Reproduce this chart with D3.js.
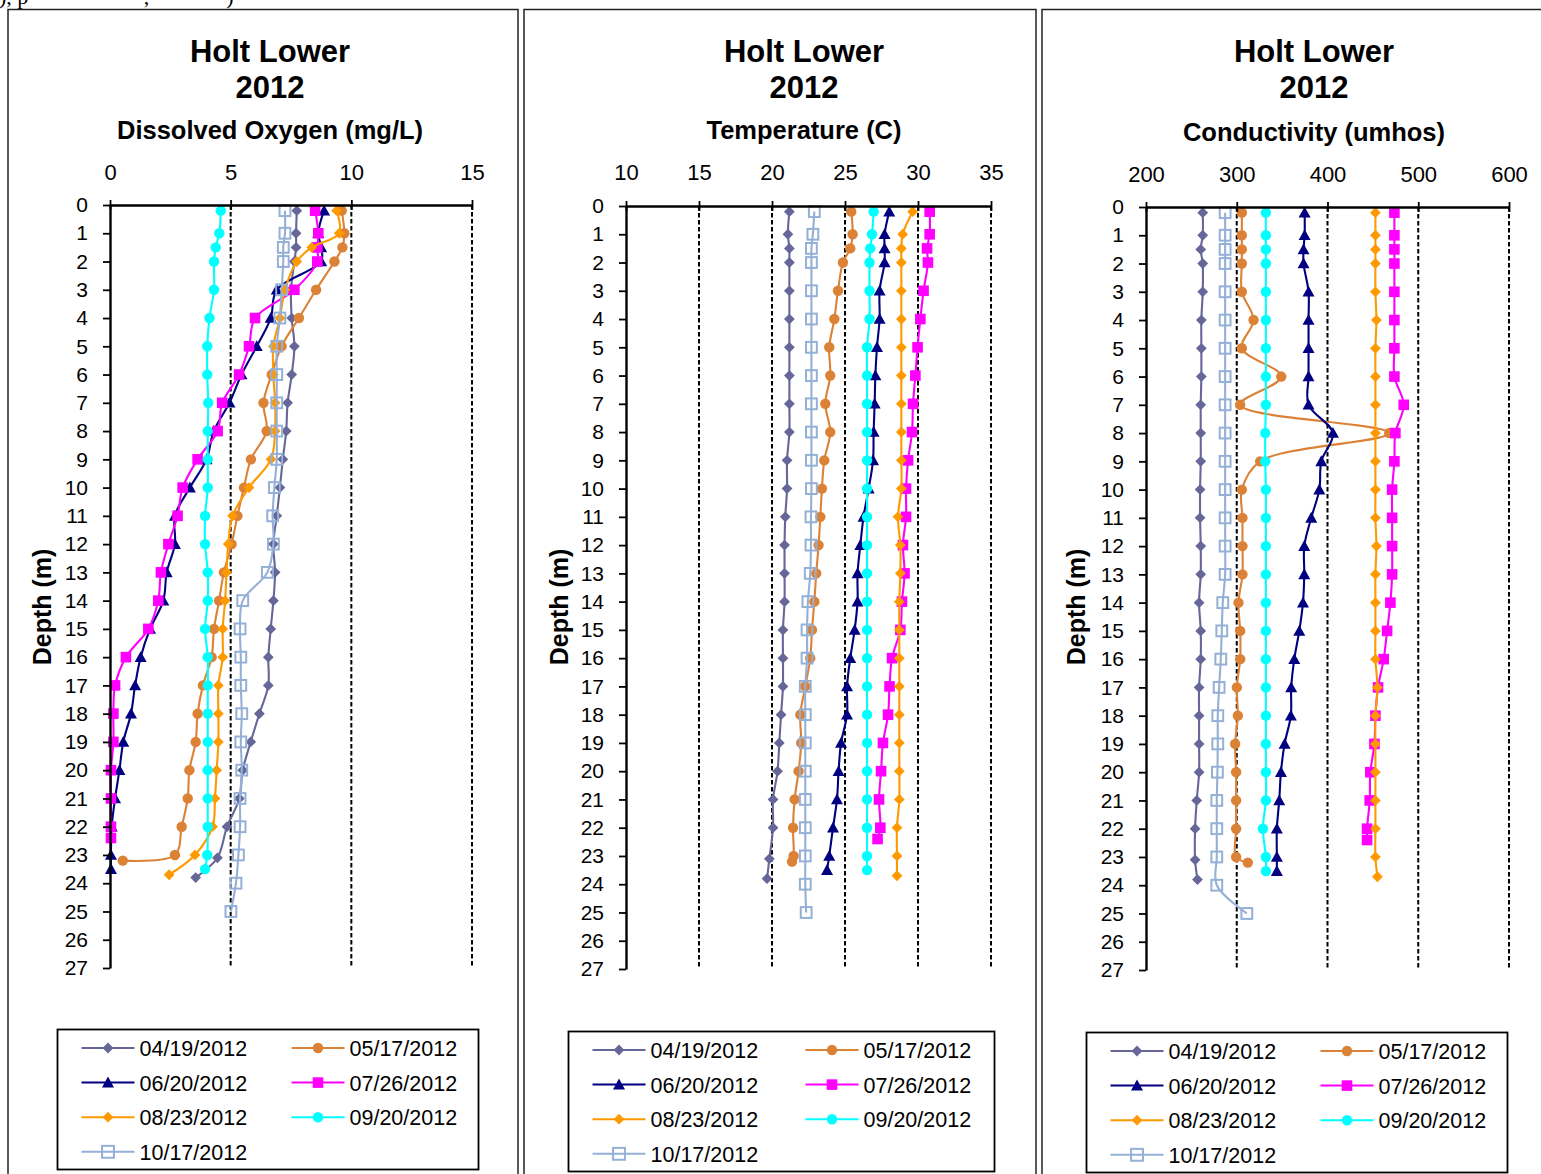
<!DOCTYPE html>
<html>
<head>
<meta charset="utf-8">
<script src="https://cdn.jsdelivr.net/npm/d3@7"></script>
<style>
  body { margin: 0; background: #fff; }
  svg { display: block; }
  text { font-family: "Liberation Sans", Arial, sans-serif; fill: #000; }
</style>
</head>
<body>
<div id="chart"></div>
<script>
// sampling dates (one profile each)
const dates = ["04/19/2012", "05/17/2012", "06/20/2012", "07/26/2012", "08/23/2012", "09/20/2012", "10/17/2012"];

// depths (m) of each profile
const depth0419 = [0.2, 1, 1.5, 2, 3, 4, 5, 6, 7, 8, 9, 10, 11, 12, 13, 14, 15, 16, 17, 18, 19, 20, 21, 22, 23.1, 23.8];
const depth0517 = [0.2, 1, 1.5, 2, 3, 4, 5, 6, 7, 8, 9, 10, 11, 12, 13, 14, 15, 16, 17, 18, 19, 20, 21, 22, 23, 23.2];
const depth0620 = [0.2, 1, 1.5, 2, 3, 4, 5, 6, 7, 8, 9, 10, 11, 12, 13, 14, 15, 16, 17, 18, 19, 20, 21, 22, 23, 23.5];
const depth0726 = [0.2, 1, 1.5, 2, 3, 4, 5, 6, 7, 8, 9, 10, 11, 12, 13, 14, 15, 16, 17, 18, 19, 20, 21, 22, 22.4];
const depth0823 = [0.2, 1, 1.5, 2, 3, 4, 5, 6, 7, 8, 9, 10, 11, 12, 13, 14, 15, 16, 17, 18, 19, 20, 21, 22, 23, 23.7];
const depth0920 = [0.2, 1, 1.5, 2, 3, 4, 5, 6, 7, 8, 9, 10, 11, 12, 13, 14, 15, 16, 17, 18, 19, 20, 21, 22, 23, 23.5];
const depth1017 = [0.2, 1, 1.5, 2, 3, 4, 5, 6, 7, 8, 9, 10, 11, 12, 13, 14, 15, 16, 17, 18, 19, 20, 21, 22, 23, 24, 25];

// dissolved oxygen (mg/L)
const do0419 = [7.74, 7.71, 7.71, 7.64, 7.5, 7.53, 7.64, 7.53, 7.36, 7.3, 7.16, 7.04, 6.91, 6.77, 6.84, 6.77, 6.66, 6.56, 6.56, 6.19, 5.83, 5.5, 5.36, 4.85, 4.45, 3.55];
const do0517 = [9.6, 9.71, 9.63, 9.3, 8.54, 7.83, 7.11, 6.7, 6.36, 6.49, 5.84, 5.55, 5.28, 5.04, 4.72, 4.52, 4.31, 4.21, 3.85, 3.63, 3.55, 3.29, 3.22, 2.97, 2.69, 0.53];
const do0620 = [8.87, 8.63, 8.75, 8.75, 6.91, 6.66, 6.08, 5.45, 4.95, 4.3, 4.0, 3.31, 2.69, 2.69, 2.35, 2.21, 1.66, 1.27, 1.04, 0.87, 0.55, 0.39, 0.21, 0.07, 0.04, 0.04];
const do0726 = [8.5, 8.63, 8.59, 8.59, 7.64, 6.01, 5.76, 5.35, 4.65, 4.46, 3.63, 3.01, 2.8, 2.42, 2.11, 2.0, 1.59, 0.66, 0.21, 0.14, 0.14, 0.04, 0.04, 0.04, 0.04];
const do0823 = [9.39, 9.5, 8.36, 7.74, 7.25, 7.04, 6.77, 6.77, 6.84, 6.84, 6.67, 5.76, 5.08, 4.9, 4.83, 4.77, 4.67, 4.67, 4.49, 4.49, 4.49, 4.42, 4.35, 4.25, 3.52, 2.45];
const do0920 = [4.59, 4.53, 4.38, 4.31, 4.31, 4.12, 4.03, 4.03, 4.07, 4.05, 4.05, 4.05, 3.94, 3.94, 4.05, 4.05, 3.94, 4.05, 4.05, 4.05, 4.05, 4.05, 4.05, 4.05, 4.03, 3.94];
const do1017 = [7.25, 7.25, 7.18, 7.18, 7.11, 7.04, 6.91, 6.91, 6.91, 6.91, 6.91, 6.81, 6.74, 6.77, 6.52, 5.5, 5.39, 5.42, 5.42, 5.46, 5.42, 5.46, 5.39, 5.39, 5.32, 5.22, 5.01];

// temperature (C)
const temp0419 = [21.19, 21.09, 21.19, 21.19, 21.19, 21.19, 21.19, 21.19, 21.19, 21.19, 21.03, 21.03, 20.91, 20.86, 20.86, 20.86, 20.75, 20.75, 20.75, 20.62, 20.5, 20.38, 20.07, 20.07, 19.82, 19.66];
const temp0517 = [25.43, 25.52, 25.36, 24.86, 24.52, 24.27, 23.92, 23.99, 23.65, 23.99, 23.58, 23.42, 23.31, 23.19, 23.03, 22.9, 22.74, 22.62, 22.28, 21.94, 22.0, 21.82, 21.55, 21.44, 21.48, 21.37];
const temp0620 = [28.03, 27.71, 27.71, 27.71, 27.37, 27.37, 27.19, 27.08, 27.03, 26.96, 26.92, 26.62, 26.27, 26.05, 25.86, 25.86, 25.66, 25.36, 25.14, 25.14, 24.73, 24.56, 24.45, 24.18, 23.92, 23.77];
const temp0726 = [30.8, 30.8, 30.62, 30.68, 30.38, 30.16, 29.97, 29.82, 29.66, 29.59, 29.32, 29.18, 29.18, 28.97, 29.08, 28.9, 28.79, 28.22, 28.05, 27.95, 27.6, 27.47, 27.33, 27.42, 27.23];
const temp0823 = [29.63, 28.95, 28.86, 28.86, 28.86, 28.86, 28.86, 28.86, 28.86, 28.86, 28.86, 28.86, 28.63, 28.79, 28.79, 28.72, 28.72, 28.72, 28.72, 28.72, 28.72, 28.72, 28.72, 28.56, 28.56, 28.56];
const temp0920 = [26.96, 26.85, 26.73, 26.68, 26.68, 26.68, 26.51, 26.51, 26.51, 26.51, 26.51, 26.51, 26.51, 26.51, 26.51, 26.51, 26.51, 26.51, 26.51, 26.51, 26.51, 26.51, 26.51, 26.51, 26.51, 26.51];
const temp1017 = [22.9, 22.8, 22.7, 22.7, 22.7, 22.7, 22.7, 22.7, 22.7, 22.7, 22.7, 22.7, 22.67, 22.67, 22.62, 22.46, 22.4, 22.4, 22.28, 22.28, 22.28, 22.28, 22.28, 22.28, 22.28, 22.28, 22.34];

// conductivity (umhos)
const cond0419 = [262.5, 262.5, 260.3, 262.5, 262.5, 261, 261, 261, 260.3, 260.3, 260.3, 259.6, 259.6, 260.3, 260.3, 258.5, 260.3, 260.3, 258.5, 258.5, 258.5, 258.5, 255.9, 254.1, 254.1, 256.7];
const cond0517 = [305.6, 305.6, 305.6, 305.6, 305.6, 318.5, 305.6, 349, 303.8, 468, 325.8, 305.6, 306.3, 306.3, 306.3, 301.9, 303.8, 303.8, 300.1, 301.2, 298.2, 299.3, 299.3, 299.3, 299.3, 312.2];
const cond0620 = [374.8, 374.8, 373.6, 373.6, 379.1, 379.1, 379.1, 379.1, 379.1, 406, 393.2, 391, 382.1, 374.4, 374.4, 373, 368.9, 363.4, 360, 359.6, 352.7, 348.7, 346.8, 344.2, 344.2, 344.2];
const cond0726 = [473.7, 473.7, 473.7, 473.7, 473.7, 473.7, 473.7, 473.7, 484, 474.8, 473.7, 471.2, 471.2, 471.2, 471.2, 469.3, 465.7, 461.9, 455.7, 452.8, 451.7, 447.2, 446.5, 443.6, 443.6];
const cond0823 = [452.8, 452.8, 452.8, 452.8, 452.8, 453.9, 452.8, 452.8, 452.8, 452.8, 452.8, 452.8, 452.8, 453.9, 452.8, 452.8, 452.8, 452.8, 455, 452.8, 452.8, 452.8, 452.8, 452.8, 452.8, 455];
const cond0920 = [332.1, 332.1, 332.1, 332.1, 332.1, 332.1, 332.1, 332.1, 332.1, 331.4, 331.4, 332.1, 332.1, 332.1, 332.1, 332.1, 332.1, 332.1, 332.1, 332.1, 332.1, 332.1, 332.1, 328.8, 332.1, 332.1];
const cond1017 = [287.2, 287.2, 287.2, 287.2, 287.2, 287.2, 287.2, 287.2, 287.2, 287.2, 287.2, 287.2, 287.2, 287.2, 287.2, 284.6, 283.5, 282.4, 280.6, 279.1, 279.1, 278.7, 278, 278, 278, 278, 311.1];

// tick labels
const depthTicks = [0, 1, 2, 3, 4, 5, 6, 7, 8, 9, 10, 11, 12, 13, 14, 15, 16, 17, 18, 19, 20, 21, 22, 23, 24, 25, 26, 27];
const doTicks = [0, 5, 10, 15];
const tempTicks = [10, 15, 20, 25, 30, 35];
const condTicks = [200, 300, 400, 500, 600];

const seriesDepths = [depth0419, depth0517, depth0620, depth0726, depth0823, depth0920, depth1017];

// look of each series, same order as dates
const seriesStyle = [
    {color: "#666699", marker: "diamond"},
    {color: "#DC8236", marker: "circle"},
    {color: "#000080", marker: "triangle"},
    {color: "#FF00FF", marker: "square"},
    {color: "#FF9900", marker: "diamond"},
    {color: "#00FFFF", marker: "circle"},
    {color: "#95B0D6", marker: "open"}
];

const width = 1541;
const height = 1174;

const svg = d3.select("#chart").append("svg")
    .attr("width", width)
    .attr("height", height);

// scrap of the page text above the charts
svg.append("text")
    .attr("x", -1)
    .attr("y", 4)
    .attr("xml:space", "preserve")
    .style("font-family", "'Liberation Serif', 'Times New Roman', serif")
    .style("font-size", "22px")
    .text("), p                     ,              )");

function drawMarker(sel, kind, color, cx, cy, big) {
    let k = big ? 1.1 : 1;
    if (kind === "diamond") {
        let r = 5.4 * k;
        sel.append("path")
            .attr("d", `M${cx},${cy - r}L${cx + r},${cy}L${cx},${cy + r}L${cx - r},${cy}Z`)
            .attr("fill", color);
    } else if (kind === "circle") {
        sel.append("circle")
            .attr("cx", cx).attr("cy", cy).attr("r", 5.2 * k)
            .attr("fill", color);
    } else if (kind === "triangle") {
        let s = 6 * k;
        sel.append("path")
            .attr("d", `M${cx},${cy - s}L${cx + s},${cy + s * 0.8}L${cx - s},${cy + s * 0.8}Z`)
            .attr("fill", color);
    } else if (kind === "square") {
        let s = 5.3 * k;
        sel.append("rect")
            .attr("x", cx - s).attr("y", cy - s)
            .attr("width", 2 * s).attr("height", 2 * s)
            .attr("fill", color);
    } else {
        let s = 5.4 * k;
        sel.append("rect")
            .attr("x", cx - s).attr("y", cy - s)
            .attr("width", 2 * s).attr("height", 2 * s)
            .attr("fill", "none")
            .attr("stroke", color)
            .attr("stroke-width", 2);
    }
}

function drawPanel(cfg) {
    const g = svg.append("g");

    // frame of the chart
    g.append("rect")
        .attr("x", cfg.boxLeft)
        .attr("y", 9.5)
        .attr("width", cfg.boxRight - cfg.boxLeft)
        .attr("height", 1300)
        .attr("fill", "none")
        .attr("stroke", "#222")
        .attr("stroke-width", 1.5);

    const x = d3.scaleLinear().domain(cfg.domain).range([cfg.left, cfg.right]);
    const y = d3.scaleLinear().domain([0, 27]).range([cfg.top, cfg.bottom]);

    // titles
    g.append("text").attr("x", cfg.titleX).attr("y", 62)
        .attr("text-anchor", "middle")
        .style("font-size", "31px").style("font-weight", "bold")
        .text("Holt Lower");
    g.append("text").attr("x", cfg.titleX).attr("y", 98)
        .attr("text-anchor", "middle")
        .style("font-size", "31px").style("font-weight", "bold")
        .text("2012");
    g.append("text").attr("x", cfg.titleX).attr("y", cfg.subY)
        .attr("text-anchor", "middle")
        .style("font-size", "25.5px").style("font-weight", "bold")
        .text(cfg.subtitle);

    // depth axis title
    g.append("text")
        .attr("transform", `translate(${cfg.depthX},607) rotate(-90)`)
        .attr("text-anchor", "middle")
        .style("font-size", "25px").style("font-weight", "bold")
        .text("Depth (m)");

    // dashed gridlines
    g.selectAll(".grid")
        .data(cfg.ticks.slice(1))
        .join("line")
        .attr("class", "grid")
        .attr("x1", d => x(d)).attr("x2", d => x(d))
        .attr("y1", cfg.top).attr("y2", cfg.bottom)
        .attr("stroke", "#000")
        .attr("stroke-width", 2)
        .attr("stroke-dasharray", "4.5,2.5");

    // profiles
    let line = d3.line()
        .x(d => x(d.v))
        .y(d => y(d.depth))
        .curve(d3.curveCatmullRom.alpha(0.5));

    cfg.values.forEach((vals, i) => {
        let pts = seriesDepths[i].map((dp, j) => ({depth: dp, v: vals[j]}));
        let st = seriesStyle[i];
        let sg = g.append("g");
        sg.append("path")
            .datum(pts)
            .attr("d", line)
            .attr("fill", "none")
            .attr("stroke", st.color)
            .attr("stroke-width", 2.1);
        pts.forEach(p => drawMarker(sg, st.marker, st.color, x(p.v), y(p.depth), false));
    });

    // top value axis with crossing ticks
    const xAxis = g.append("g")
        .attr("transform", `translate(0,${cfg.top})`)
        .call(d3.axisTop(x).tickValues(cfg.ticks).tickSizeInner(5).tickSizeOuter(0).tickFormat(d3.format("d")));
    xAxis.select(".domain").attr("stroke-width", 2.4);
    xAxis.selectAll(".tick line").attr("y1", 5).attr("stroke-width", 1.8);
    xAxis.selectAll(".tick text")
        .attr("y", cfg.tickY - cfg.top).attr("dy", null)
        .style("font-size", "22px")
        .style("font-family", "'Liberation Sans', Arial, sans-serif");

    // left depth axis
    const yAxis = g.append("g")
        .attr("transform", `translate(${cfg.left},0)`)
        .call(d3.axisLeft(y).tickValues(depthTicks).tickSize(7).tickSizeOuter(0).tickPadding(15));
    yAxis.select(".domain").attr("stroke-width", 2.4);
    yAxis.selectAll(".tick line").attr("stroke-width", 1.8);
    yAxis.selectAll(".tick text")
        .style("font-size", "21px")
        .style("font-family", "'Liberation Sans', Arial, sans-serif");

    // legend
    const lg = g.append("g").attr("transform", `translate(${cfg.legX},${cfg.legY})`);
    lg.append("rect")
        .attr("x", 0).attr("y", 0)
        .attr("width", cfg.legW).attr("height", 140)
        .attr("fill", "none")
        .attr("stroke", "#000")
        .attr("stroke-width", 1.8);
    dates.forEach((d, i) => {
        let col = i % 2, row = Math.floor(i / 2);
        let lx = 24 + col * cfg.legCol;
        let ly = 18.5 + row * 34.6;
        let st = seriesStyle[i];
        lg.append("line")
            .attr("x1", lx).attr("x2", lx + 53)
            .attr("y1", ly).attr("y2", ly)
            .attr("stroke", st.color)
            .attr("stroke-width", 2);
        drawMarker(lg, st.marker, st.color, lx + 26.5, ly, st.marker === "open");
        lg.append("text")
            .attr("x", lx + 58).attr("y", ly + 8)
            .style("font-size", "21.5px")
            .text(d);
    });
}

drawPanel({
    boxLeft: 8, boxRight: 518,
    domain: [0, 15], ticks: doTicks, values: [do0419, do0517, do0620, do0726, do0823, do0920, do1017],
    left: 110, right: 472, top: 205, bottom: 968,
    titleX: 270, subY: 139, subtitle: "Dissolved Oxygen (mg/L)", depthX: 51, tickY: 180,
    legX: 57.5, legY: 1029.5, legW: 421, legCol: 210
});

drawPanel({
    boxLeft: 524, boxRight: 1036,
    domain: [10, 35], ticks: tempTicks, values: [temp0419, temp0517, temp0620, temp0726, temp0823, temp0920, temp1017],
    left: 626, right: 991, top: 206, bottom: 969,
    titleX: 804, subY: 139, subtitle: "Temperature (C)", depthX: 568, tickY: 180,
    legX: 568.5, legY: 1031.5, legW: 426, legCol: 213
});

drawPanel({
    boxLeft: 1042, boxRight: 1600,
    domain: [200, 600], ticks: condTicks, values: [cond0419, cond0517, cond0620, cond0726, cond0823, cond0920, cond1017],
    left: 1146, right: 1509, top: 207, bottom: 970,
    titleX: 1314, subY: 141, subtitle: "Conductivity (umhos)", depthX: 1085, tickY: 182,
    legX: 1086.5, legY: 1032.5, legW: 421, legCol: 210
});
</script>
</body>
</html>
